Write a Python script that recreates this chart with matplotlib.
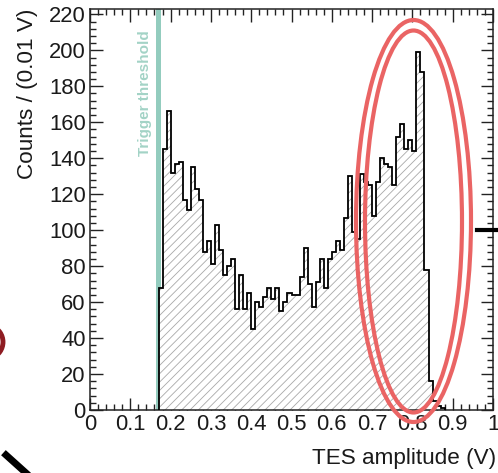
import numpy as np
import matplotlib
matplotlib.use("Agg")
import matplotlib.pyplot as plt
from matplotlib.patches import Ellipse, Arc
from matplotlib.ticker import MultipleLocator

plt.rcParams['font.family'] = ['Liberation Sans', 'DejaVu Sans']
plt.rcParams['hatch.linewidth'] = 0.6

# TES amplitude spectrum, 0.01 V bins starting at 0.17 V
first_edge = 0.17
bin_width = 0.01
counts = [68, 145, 166, 132, 137, 138, 117, 111, 135, 123,
          117, 88, 94, 81, 103, 89, 75, 80, 84, 56,
          75, 56, 65, 45, 60, 57, 63, 68, 62, 68,
          55, 60, 65, 64, 64, 74, 90, 70, 57, 71,
          84, 68, 84, 88, 94, 89, 107, 130, 99, 95,
          131, 127, 125, 108, 127, 140, 137, 135, 125, 152,
          159, 145, 150, 144, 199, 188, 78, 16, 5, 2, 1]
edges = first_edge + bin_width * np.arange(len(counts) + 1)

trigger_threshold = 0.168
x_ticks = [0, 0.1, 0.2, 0.3, 0.4, 0.5, 0.6, 0.7, 0.8, 0.9, 1]
x_tick_labels = ['0', '0.1', '0.2', '0.3', '0.4', '0.5', '0.6', '0.7', '0.8', '0.9', '1']
y_ticks = list(range(0, 221, 20))

W, H = 498, 473
fig = plt.figure(figsize=(W / 100, H / 100), dpi=100)
ax = fig.add_axes([90 / W, 1 - 410 / H, 403 / W, 400.5 / H])

ax.axvline(trigger_threshold, color='#93ccbe', lw=3.6, zorder=1)
ax.text(0.137, 211, 'Trigger threshold', rotation=90, ha='center', va='top',
        color='#a3d3c6', fontsize=11, fontweight='bold', zorder=2)

ax.stairs(counts, edges, baseline=0, fill=True, facecolor='white',
          edgecolor='#a8a8a8', hatch='////', linewidth=0, zorder=2)
ax.stairs(counts, edges, baseline=0, color='black', lw=1.3, zorder=3)

ax.set_xlim(0, 1)
ax.set_ylim(0, 222.7)
ax.set_xticks(x_ticks)
ax.set_xticklabels(x_tick_labels)
ax.set_yticks(y_ticks)
ax.xaxis.set_minor_locator(MultipleLocator(0.02))
ax.yaxis.set_minor_locator(MultipleLocator(4))
ax.tick_params(which='both', direction='in', top=True, right=True,
               labelsize=15.8, width=1.0, colors='#222222', labelcolor='#1a1a1a')
ax.tick_params(which='major', length=9, pad=3)
ax.tick_params(which='minor', length=4.5)
for s in ax.spines.values():
    s.set_linewidth(1.1)
    s.set_color('#222222')

fig.text(27 / W, 1 - 9 / H, 'Counts / (0.01 V)', rotation=90, ha='center', va='top',
         fontsize=16.2, color='#1a1a1a')
fig.text(496 / W, 1 - 469 / H, 'TES amplitude (V)', ha='right', va='bottom',
         fontsize=16.2, color='#1a1a1a')

# highlight around the main peak
for w, h, y0 in [(115, 402, 221), (97, 382, 221.5)]:
    fig.patches.append(Ellipse((413.5 / W, 1 - y0 / H), w / W, h / H,
                               transform=fig.transFigure, fill=False,
                               edgecolor='#ea6464', lw=3.0, zorder=10))

# edge fragments of neighbouring graphics
fig.add_artist(plt.Line2D([477 / W, 1.0], [1 - 230 / H, 1 - 230 / H],
                          transform=fig.transFigure, color='black', lw=3))
fig.add_artist(plt.Line2D([6 / W, 26 / W], [1 - 455 / H, 1 - 473 / H],
                          transform=fig.transFigure, color='black', lw=5))
fig.patches.append(Arc((-14 / W, 1 - 342 / H), 34 / W, 34 / H, theta1=-70, theta2=70,
                       transform=fig.transFigure, edgecolor='#8e1c22', lw=3.5))

fig.savefig('out.png', dpi=100)
